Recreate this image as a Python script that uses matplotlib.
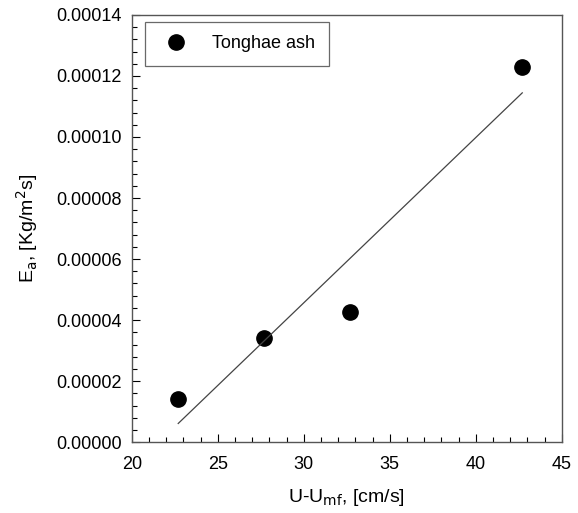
import numpy as np
import matplotlib.pyplot as plt
from matplotlib.ticker import MultipleLocator, FormatStrFormatter

plt.rcParams['font.family'] = ['Liberation Sans', 'DejaVu Sans']

# data
velocity = [22.7, 27.7, 32.7, 42.7]           # U-Umf, cm/s
entrainment = [1.42e-5, 3.42e-5, 4.27e-5, 1.23e-4]  # Ea, kg/m2 s

# linear fit
coef = np.polyfit(velocity, entrainment, 1)
fit_x = np.array([min(velocity), max(velocity)])
fit_y = np.polyval(coef, fit_x)

fig = plt.figure(figsize=(5.78, 5.13), dpi=100)
ax = fig.add_axes([0.228, 0.138, 0.744, 0.833])

ax.plot(velocity, entrainment, 'o', color='black', markersize=11, label='Tonghae ash')
ax.plot(fit_x, fit_y, '-', color='#444444', linewidth=0.9)

ax.set_xlim(20, 45)
ax.set_ylim(0, 0.00014)
ax.xaxis.set_major_locator(MultipleLocator(5))
ax.xaxis.set_minor_locator(MultipleLocator(1))
ax.yaxis.set_major_locator(MultipleLocator(0.00002))
ax.yaxis.set_minor_locator(MultipleLocator(0.000004))
ax.yaxis.set_major_formatter(FormatStrFormatter('%.5f'))

ax.tick_params(which='both', direction='in', top=False, right=False, labelsize=13)
ax.tick_params(which='major', length=6, width=0.8)
ax.tick_params(axis='x', which='major', pad=10)
ax.tick_params(axis='y', which='major', pad=7)
ax.tick_params(which='minor', length=3.5, width=0.8)
for s in ax.spines.values():
    s.set_color('#555555')
    s.set_linewidth(1.0)

ax.set_xlabel('U-U$_{\\rm mf}$, [cm/s]', fontsize=14, labelpad=10)
ax.set_ylabel('E$_{\\rm a}$, [Kg/m$^{\\rm 2}$s]', fontsize=14, labelpad=12)

leg = ax.legend(loc='upper left', bbox_to_anchor=(0.030, 0.984), borderaxespad=0,
                fontsize=13, frameon=True, fancybox=False, edgecolor='#444444',
                borderpad=0.75, handletextpad=1.0)
leg.get_frame().set_linewidth(0.9)

plt.savefig('out.png', dpi=100)
